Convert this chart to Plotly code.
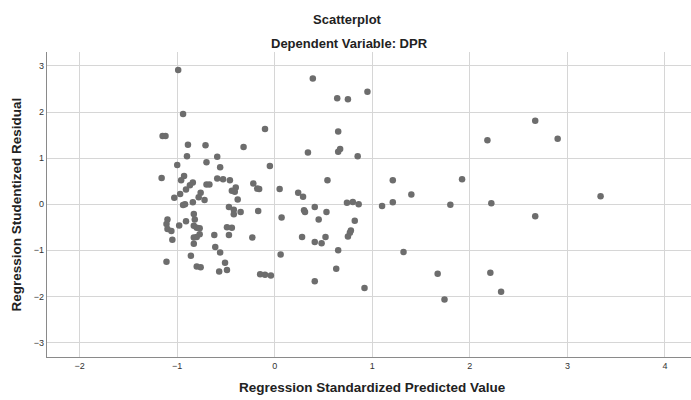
import plotly.graph_objects as go

# Regression Standardized Predicted Value
pred = [-0.99, -0.94, -1.15, -1.12, -0.89, -0.71, -0.32, -0.10, -0.90, -0.59,
        -0.70, -1.00, -0.56, -0.05, -1.16, -0.93, -0.96, -0.84, -0.87, -0.91,
        -0.97, -1.03, -0.76, -0.59, -0.53, -0.46, -0.70, -0.67, -0.40, -0.44,
        -0.41, -0.22, -0.18, -0.16, -0.78, -0.72, -0.38, -0.84, -0.94, -0.92,
        -0.47, -0.42, -0.35, -0.42, -0.17, -0.83, -0.82, -0.91, -0.98, -1.10,
        -1.11, -1.10, -1.06, -0.83, -0.80, -0.77, -0.77, -0.83, -0.80, -0.83,
        -1.05, -0.62, -0.49, -0.44, -0.47, -0.23, -0.61, -0.56, -0.86, -1.11,
        -0.51, -0.80, -0.76, -0.57, -0.49, -0.15, -0.10, -0.04,
        0.39, 0.64, 0.75, 0.95, 0.65, 0.34, 0.65, 0.67, 0.85, 0.54,
        1.21, 0.05, 0.24, 0.29, 1.40, 0.74, 0.80, 0.86, 1.10, 1.21,
        1.80, 0.07, 0.41, 0.30, 0.31, 0.53, 0.45, 0.82, 0.78, 0.77,
        0.75, 0.28, 0.41, 0.48, 0.52, 0.65, 0.06, 1.32, 0.63, 0.41,
        0.92, 1.67, 1.74, 1.92, 2.18, 2.67, 2.90, 3.34, 2.22, 2.67,
        2.21, 2.32]

# Regression Studentized Residual
resid = [2.91, 1.96, 1.48, 1.48, 1.29, 1.28, 1.24, 1.63, 1.04, 1.03,
         0.91, 0.85, 0.80, 0.83, 0.57, 0.61, 0.52, 0.47, 0.41, 0.32,
         0.22, 0.14, 0.25, 0.56, 0.54, 0.52, 0.43, 0.43, 0.36, 0.29,
         0.27, 0.45, 0.34, 0.33, 0.15, 0.09, 0.10, 0.04, -0.02, 0.00,
         -0.06, -0.12, -0.17, -0.22, -0.15, -0.21, -0.33, -0.37, -0.46, -0.33,
         -0.43, -0.54, -0.58, -0.47, -0.51, -0.52, -0.65, -0.72, -0.71, -0.86,
         -0.77, -0.67, -0.50, -0.51, -0.67, -0.72, -0.93, -1.05, -1.12, -1.25,
         -1.27, -1.35, -1.37, -1.46, -1.43, -1.52, -1.53, -1.55,
         2.73, 2.30, 2.28, 2.44, 1.58, 1.12, 1.14, 1.20, 1.04, 0.52,
         0.52, 0.33, 0.25, 0.16, 0.21, 0.03, 0.05, 0.00, -0.04, 0.04,
         -0.01, -0.29, -0.06, -0.13, -0.17, -0.17, -0.33, -0.36, -0.57, -0.62,
         -0.70, -0.71, -0.82, -0.85, -0.71, -1.00, -1.09, -1.04, -1.40, -1.67,
         -1.82, -1.51, -2.07, 0.54, 1.39, 1.81, 1.42, 0.17, 0.02, -0.26,
         -1.49, -1.90]

x_ticks = [-2, -1, 0, 1, 2, 3, 4]
y_ticks = [-3, -2, -1, 0, 1, 2, 3]

FONT = "Liberation Sans, Arial, sans-serif"

fig = go.Figure(go.Scatter(
    x=pred, y=resid, mode="markers",
    marker=dict(size=6.5, color="#6d6d6d", line=dict(width=0)),
    hoverinfo="skip",
))

axis_common = dict(
    showgrid=True, gridcolor="#d6d6d6", gridwidth=1,
    zeroline=False, showline=True, linecolor="#8a8a8a", linewidth=1.2,
    ticks="", tickfont=dict(family=FONT, size=9, color="#333333"),
    mirror=False, fixedrange=True,
)

fig.update_layout(
    width=691, height=400,
    margin=dict(l=47, r=0, t=52, b=43),
    paper_bgcolor="white", plot_bgcolor="white",
    showlegend=False,
    xaxis=dict(range=[-2.335, 4.267], tickvals=x_ticks, **axis_common),
    yaxis=dict(range=[-3.316, 3.303], tickvals=y_ticks, **axis_common),
    annotations=[
        dict(text="<b>Scatterplot</b>", xref="paper", yref="paper",
             x=0.466, y=1.105, xanchor="center", yanchor="middle",
             showarrow=False, font=dict(family=FONT, size=13, color="#222222")),
        dict(text="<b>Dependent Variable: DPR</b>", xref="paper", yref="paper",
             x=0.469, y=1.0295, xanchor="center", yanchor="middle",
             showarrow=False, font=dict(family=FONT, size=13, color="#222222")),
        dict(text="<b>Regression Standardized Predicted Value</b>", xref="paper", yref="paper",
             x=0.5047, y=-0.1016, xanchor="center", yanchor="middle",
             showarrow=False, font=dict(family=FONT, size=13.5, color="#222222")),
        dict(text="<b>Regression Studentized Residual</b>", xref="paper", yref="paper",
             x=-0.0466, y=0.5, xanchor="center", yanchor="middle", textangle=-90,
             showarrow=False, font=dict(family=FONT, size=13.5, color="#222222")),
    ],
)

fig.write_html(
    "out.html",
    config={"displayModeBar": False, "staticPlot": True},
    post_script="document.body.style.margin='0';document.body.style.padding='0';",
)
